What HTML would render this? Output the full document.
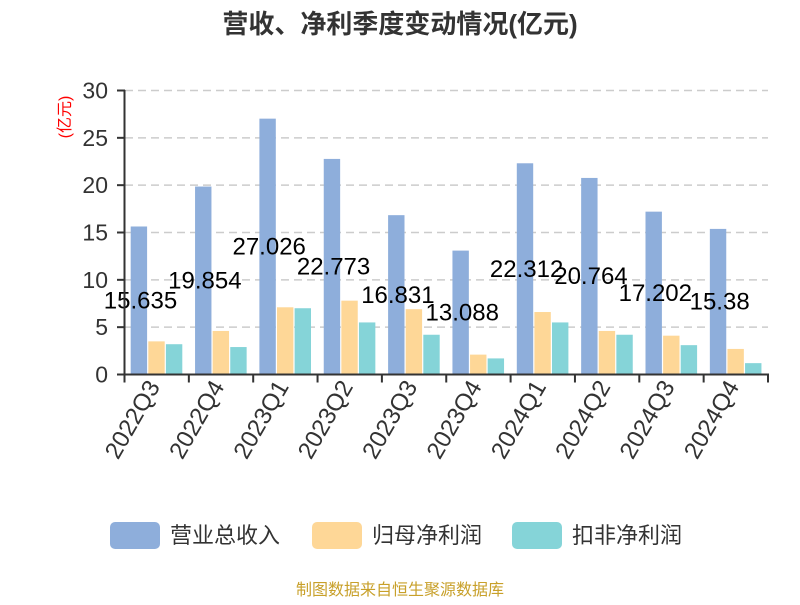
<!DOCTYPE html><html><head><meta charset="utf-8"><style>body{margin:0;background:#fff}svg text{font-family:"Liberation Sans","Noto Sans CJK SC",sans-serif}</style></head><body>
<svg width="800" height="600" xmlns="http://www.w3.org/2000/svg">
<text x="400" y="33" text-anchor="middle" font-size="26" font-weight="bold" fill="#333">营收、净利季度变动情况(亿元)</text>
<text transform="translate(70,117) rotate(-90)" text-anchor="middle" font-size="16" fill="#f00">(亿元)</text>
<g id="g"></g>
<text x="400" y="595" text-anchor="middle" font-size="16" fill="#c8a02a">制图数据来自恒生聚源数据库</text>
<g font-size="22" fill="#333">
<rect x="110" y="522" width="50" height="27" rx="5" fill="#8eaedb"/><text x="170" y="543">营业总收入</text>
<rect x="312" y="522" width="50" height="27" rx="5" fill="#fed797"/><text x="372" y="543">归母净利润</text>
<rect x="512" y="522" width="50" height="27" rx="5" fill="#85d4d8"/><text x="572" y="543">扣非净利润</text>
</g>
</svg>
<script>
const g=document.getElementById('g');let s='';
const y0=374.5,k=(374.5-90.5)/30,x0=124.5,w=64.35;
for(let i=0;i<=6;i++){const y=y0-i*5*k;
 if(i>0)s+=`<line x1="125" x2="768" y1="${y}" y2="${y}" stroke="#ccc" stroke-dasharray="8,5" stroke-width="1.5"/>`;
 s+=`<line x1="117" x2="125" y1="${y}" y2="${y}" stroke="#333" stroke-width="2"/><text x="108" y="${y+8}" text-anchor="end" font-size="23" fill="#333">${i*5}</text>`;}
const cats=['2022Q3','2022Q4','2023Q1','2023Q2','2023Q3','2023Q4','2024Q1','2024Q2','2024Q3','2024Q4'];
const a=[15.635,19.854,27.026,22.773,16.831,13.088,22.312,20.764,17.202,15.38];
const b=[3.5,4.6,7.1,7.8,6.9,2.1,6.6,4.6,4.1,2.7];
const c=[3.2,2.9,7.0,5.5,4.2,1.7,5.5,4.2,3.1,1.2];
const cols=['#8eaedb','#fed797','#85d4d8'];
cats.forEach((n,i)=>{const L=x0+i*w;
 [a,b,c].forEach((d,j)=>{const h=d[i]*k;s+=`<rect x="${L+6.2+j*17.6}" y="${y0-h}" width="16.4" height="${h}" fill="${cols[j]}"/>`;});
 s+=`<line x1="${L}" x2="${L}" y1="${y0}" y2="${y0+8}" stroke="#333" stroke-width="2"/>`;
 s+=`<text transform="translate(${L+w/2+4},${y0+12}) rotate(-60)" text-anchor="end" font-size="24" fill="#333">${n}</text>`;
});
s+=`<line x1="${x0+10*w}" x2="${x0+10*w}" y1="${y0}" y2="${y0+8}" stroke="#333" stroke-width="2"/>`;
cats.forEach((n,i)=>{const L=x0+i*w;s+=`<text x="${L+16}" y="${y0-a[i]*k/2+8}" text-anchor="middle" font-size="24" fill="#000">${a[i]}</text>`;});
s+=`<line x1="124.5" x2="124.5" y1="90" y2="375" stroke="#333" stroke-width="2"/><line x1="124" x2="769" y1="374.5" y2="374.5" stroke="#333" stroke-width="2"/>`;
g.innerHTML=s;
</script>
</body></html>
